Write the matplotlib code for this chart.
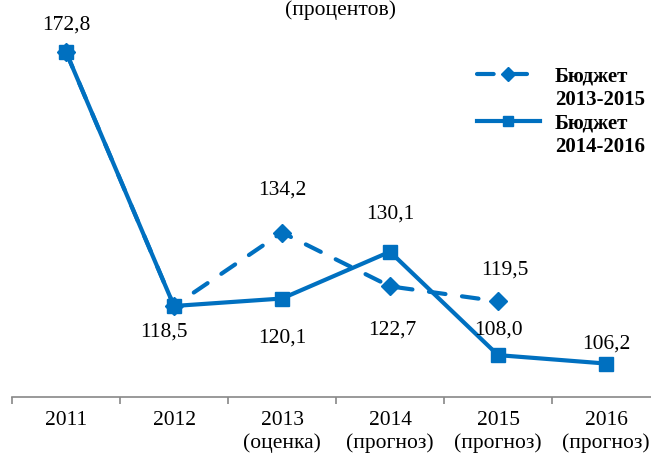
import matplotlib.pyplot as plt
from matplotlib.lines import Line2D
import numpy as np

plt.rcParams['font.family'] = ['Liberation Serif', 'DejaVu Serif']

years = ['2011', '2012', '2013\n(оценка)', '2014\n(прогноз)', '2015\n(прогноз)', '2016\n(прогноз)']
budget_2013 = [172.8, 118.5, 134.2, 122.7, 119.5]
budget_2014 = [172.8, 118.5, 120.1, 130.1, 108.0, 106.2]
names = ['Бюджет\n2013-2015', 'Бюджет\n2014-2016']

# label offsets in pixels (dx, dy) for each point
off_2013 = [None, None, (0, 42), (2, -44), (7, 31)]
off_2014 = [(0, 27), (-10, -26), (0, -40), (0, 38), (0, 25), (0, 19)]

blue = '#0070C0'
dash = (0, (4, 4))

fig = plt.figure(figsize=(6.51, 4.55), dpi=100)
ax = fig.add_axes([12 / 651, 58 / 455, 648 / 651, 397 / 455])

x1 = np.arange(len(budget_2013))
x2 = np.arange(len(budget_2014))
ax.plot(x1, budget_2013, color=blue, lw=3, ls=dash, dash_capstyle='round',
        marker='D', ms=9)
ax.plot(x2, budget_2014, color=blue, lw=3, marker='s', ms=9.5)

def fmt(v):
    return ('%.1f' % v).replace('.', ',')

for xs, vals, offs in [(x1, budget_2013, off_2013), (x2, budget_2014, off_2014)]:
    for x, v, o in zip(xs, vals, offs):
        if o is None:
            continue
        ax.annotate(fmt(v), (x, v), xytext=o, textcoords='offset pixels',
                    ha='center', va='center', fontsize=15.5)

ax.set_xlim(-0.5, 5.5)
ax.set_ylim(99.05, 183.9)
ax.set_yticks([])
for s in ['left', 'right', 'top']:
    ax.spines[s].set_visible(False)
ax.spines['bottom'].set_color('#888888')
ax.spines['bottom'].set_linewidth(1.2)

ax.set_xticks(x2)
ax.set_xticklabels(years, fontsize=15.5, linespacing=1.25, va='top')
ax.tick_params(axis='x', which='major', length=0, pad=10)
ax.set_xticks(np.arange(-0.5, 6, 1), minor=True)
ax.tick_params(axis='x', which='minor', length=5, color='#888888', width=1.2)

# legend drawn by hand so the key line sits on the first text line
W, H = 651, 455
for i, (name, ls, mk, ms) in enumerate([(names[0], dash, 'D', 7), (names[1], '-', 's', 7.5)]):
    y = 1 - (74 + 47 * i) / H
    key = Line2D([477 / W, 540 / W], [y, y], transform=fig.transFigure, color=blue,
                 lw=3, ls=ls, dash_capstyle='round')
    fig.add_artist(key)
    fig.add_artist(Line2D([508 / W], [y], transform=fig.transFigure, color=blue,
                          marker=mk, ms=ms, ls='none'))
    fig.text(555 / W, y + 7 / H, name, ha='left', va='top', fontsize=15,
             fontweight='bold', linespacing=1.2)

fig.text(340 / W, 1.0, '(процентов)', ha='center', va='top', fontsize=15.5)

fig.savefig('out.png', dpi=100)
